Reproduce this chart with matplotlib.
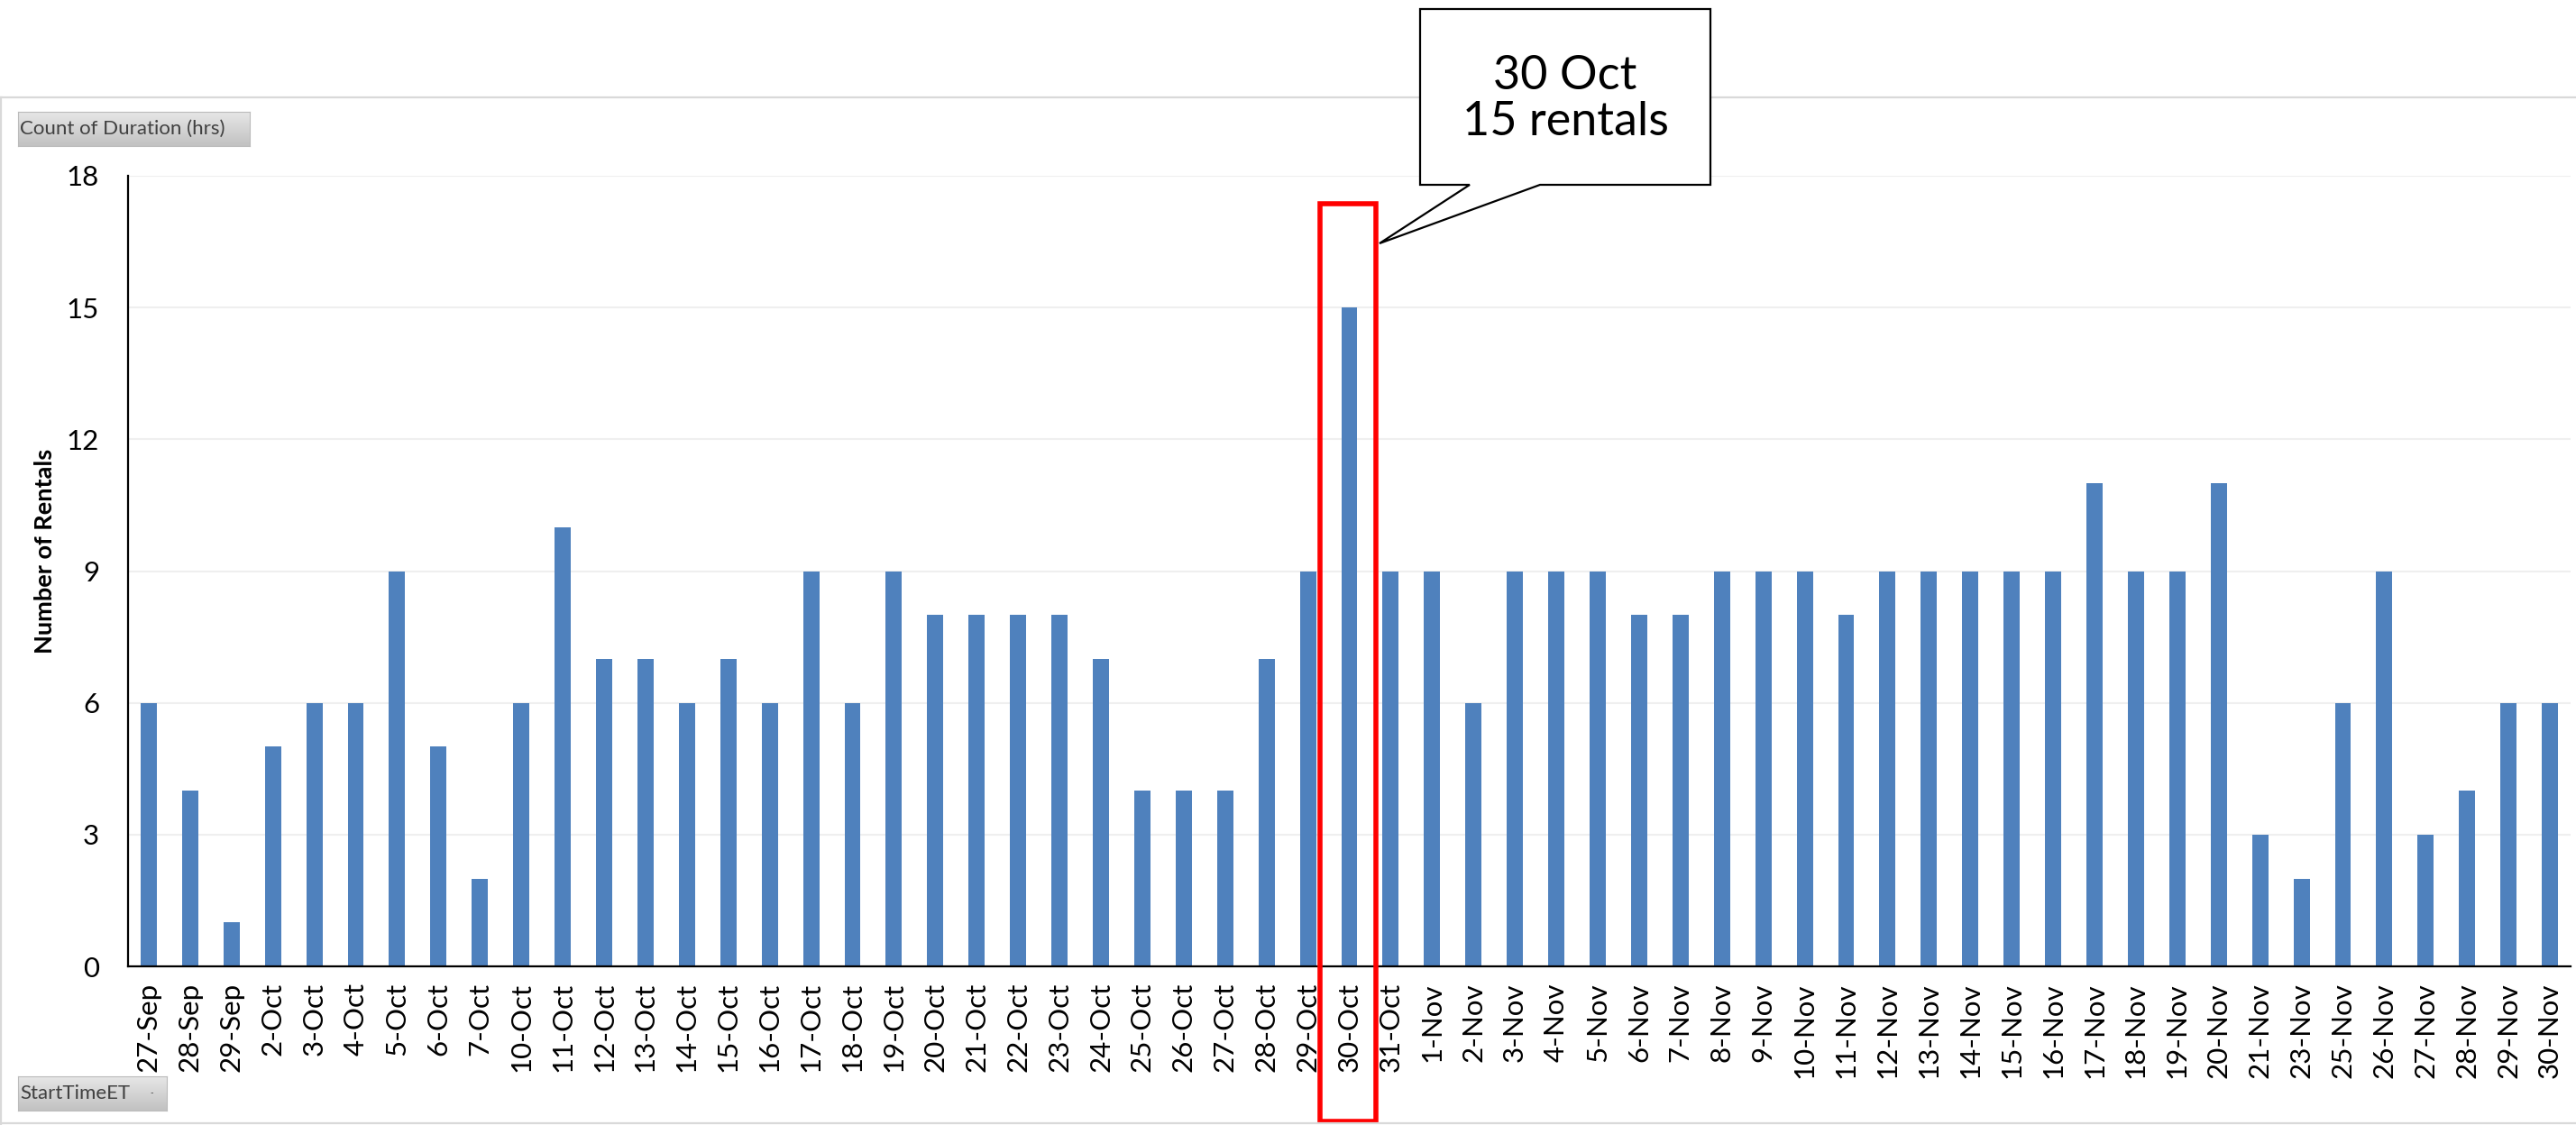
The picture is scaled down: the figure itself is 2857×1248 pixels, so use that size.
import matplotlib
matplotlib.use("Agg")
import matplotlib.pyplot as plt
import matplotlib.transforms as mtransforms
from matplotlib.patches import Rectangle, Polygon
from matplotlib.lines import Line2D
import numpy as np

# rentals per day (pivot chart: Count of Duration (hrs) by StartTimeET)
days = ['27-Sep', '28-Sep', '29-Sep', '2-Oct', '3-Oct', '4-Oct', '5-Oct', '6-Oct', '7-Oct',
        '10-Oct', '11-Oct', '12-Oct', '13-Oct', '14-Oct', '15-Oct', '16-Oct', '17-Oct',
        '18-Oct', '19-Oct', '20-Oct', '21-Oct', '22-Oct', '23-Oct', '24-Oct', '25-Oct',
        '26-Oct', '27-Oct', '28-Oct', '29-Oct', '30-Oct', '31-Oct', '1-Nov', '2-Nov',
        '3-Nov', '4-Nov', '5-Nov', '6-Nov', '7-Nov', '8-Nov', '9-Nov', '10-Nov', '11-Nov',
        '12-Nov', '13-Nov', '14-Nov', '15-Nov', '16-Nov', '17-Nov', '18-Nov', '19-Nov',
        '20-Nov', '21-Nov', '23-Nov', '25-Nov', '26-Nov', '27-Nov', '28-Nov', '29-Nov',
        '30-Nov']
rentals = [6, 4, 1, 5, 6, 6, 9, 5, 2,
           6, 10, 7, 7, 6, 7, 6, 9,
           6, 9, 8, 8, 8, 8, 7, 4,
           4, 4, 7, 9, 15, 9, 9, 6,
           9, 9, 9, 8, 8, 9, 9, 9, 8,
           9, 9, 9, 9, 9, 11, 9, 9,
           11, 3, 2, 6, 9, 3, 4, 6,
           6]
y_ticks = [0, 3, 6, 9, 12, 15, 18]

W, H = 2857, 1248
plt.rcParams['font.family'] = ['Lato', 'DejaVu Sans']


def fx(px):
    return px / W


def fy(py):
    return 1 - py / H


fig = plt.figure(figsize=(W / 100, H / 100), dpi=100)
ax = fig.add_axes([fx(142), fy(1072), (2851 - 142) / W, (1072 - 195) / H])

x = np.arange(len(days))
ax.bar(x, rentals, width=0.39, color='#4F81BD', zorder=2)
ax.set_xlim(-0.5, len(days) - 0.5)
ax.set_ylim(0, 18)
ax.set_yticks(y_ticks)
ax.set_xticks(x)
ax.set_xticklabels(days, rotation=90)
ax.tick_params(axis='both', length=0, labelsize=22.5, colors='black')
ax.tick_params(axis='y', pad=23)
ax.tick_params(axis='x', pad=13)
ax.grid(axis='y', color='#EFEFEF', lw=1.5, zorder=0)
ax.set_axisbelow(True)
for s in ['top', 'right']:
    ax.spines[s].set_visible(False)
for s in ['left', 'bottom']:
    ax.spines[s].set_linewidth(1.6)
ax.set_ylabel('Number of Rentals', fontsize=19.5, fontweight='bold')
ax.yaxis.set_label_coords((62 - 142) / (2851 - 142), (1072 - 611) / (1072 - 195))

# chart area border lines
for xs, ys in [((0, W), (108, 108)), ((0, W), (1246, 1246)), ((1, 1), (108, H))]:
    fig.add_artist(Line2D([fx(v) for v in xs], [fy(v) for v in ys],
                          color='#D9D9D9', lw=1.6, transform=fig.transFigure))

# pivot field buttons
grad = np.linspace(0, 1, 50).reshape(-1, 1)
for (x0, y0, x1, y1), label in [((20, 124, 277, 162), 'Count of Duration (hrs)'),
                                ((20, 1194, 185, 1232), 'StartTimeET')]:
    bax = fig.add_axes([fx(x0), fy(y1), (x1 - x0) / W, (y1 - y0) / H])
    bax.imshow(grad, aspect='auto', cmap=matplotlib.colors.LinearSegmentedColormap.from_list(
        'btn', ['#E6E6E6', '#C2C2C2']), extent=[0, 1, 0, 1])
    bax.set_xticks([])
    bax.set_yticks([])
    for sp in bax.spines.values():
        sp.set_color('#BBBBBB')
        sp.set_linewidth(0.8)
    fig.text(fx(x0 + 2), fy((y0 + y1) / 2), label, fontsize=16, color='#404040', va='center')
fig.text(fx(168), fy(1213), '-', fontsize=7, color='#404040', va='center', ha='center')

# highlight the peak day
peak = int(np.argmax(rentals))
blend = mtransforms.blended_transform_factory(ax.transData, fig.transFigure)
fig.add_artist(Rectangle((peak - 0.70, fy(1244)), 1.34, (1244 - 226) / H, fill=False,
                         ec='#FF0000', lw=4, transform=blend, clip_on=False))

# callout
pts = [(1575, 10), (1897, 10), (1897, 205), (1708, 205), (1530, 270), (1630, 205), (1575, 205)]
fig.add_artist(Polygon([(fx(a), fy(b)) for a, b in pts], closed=True, fc='white', ec='black',
                       lw=1.6, transform=fig.transFigure, zorder=5))
d, m = days[peak].split('-')
fig.text(fx(1736), fy(110), f'{d} {m}\n{rentals[peak]} rentals', fontsize=37.5, ha='center',
         va='center', linespacing=1.12, zorder=6)

fig.savefig('out.png', dpi=100)
